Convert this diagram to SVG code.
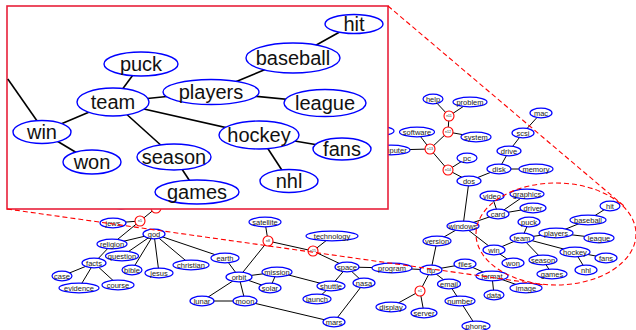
<svg xmlns="http://www.w3.org/2000/svg" width="636" height="330" viewBox="0 0 636 330">
<style>
.e line{stroke:#000;stroke-width:1}
.n ellipse{fill:#fff;stroke:#0000ff;stroke-width:1.2}
.n text{font-family:"Liberation Sans",Arial,sans-serif;font-size:7.5px;fill:#222;text-anchor:middle}
.r circle{fill:#fff;stroke:#ff0000;stroke-width:1.1}
.r text{font-family:"Liberation Sans",Arial,sans-serif;font-size:3.6px;fill:#333;text-anchor:middle}
.ie line{stroke:#000;stroke-width:1.6}
.in ellipse{fill:#fff;stroke:#0000ff;stroke-width:1.4}
.in text{font-family:"Liberation Sans",Arial,sans-serif;font-size:20px;fill:#111;text-anchor:middle}
.d{fill:none;stroke:#ff0000;stroke-width:1.1;stroke-dasharray:5 3}
</style>
<g id="connectors" class="e">
<line x1="433" y1="99" x2="449" y2="116"/><line x1="470" y1="102" x2="449" y2="116"/>
<line x1="449" y1="116" x2="448" y2="132"/><line x1="448" y1="132" x2="476" y2="137"/>
<line x1="448" y1="132" x2="430" y2="149"/><line x1="430" y1="149" x2="417" y2="132"/>
<line x1="430" y1="149" x2="391" y2="150"/><line x1="430" y1="149" x2="448" y2="170"/>
<line x1="448" y1="170" x2="467" y2="158"/><line x1="448" y1="170" x2="469" y2="181"/>
<line x1="469" y1="181" x2="499" y2="169"/><line x1="499" y1="169" x2="536" y2="169"/>
<line x1="499" y1="169" x2="509" y2="151"/><line x1="509" y1="151" x2="523" y2="133"/>
<line x1="523" y1="133" x2="541" y2="113"/><line x1="469" y1="181" x2="463" y2="226"/>
<line x1="463" y1="226" x2="498" y2="214"/><line x1="498" y1="214" x2="492" y2="196"/>
<line x1="498" y1="214" x2="527" y2="194"/><line x1="498" y1="214" x2="533" y2="208"/>
<line x1="463" y1="226" x2="494" y2="250"/><line x1="494" y1="250" x2="513" y2="263"/>
<line x1="494" y1="250" x2="522" y2="238"/><line x1="522" y1="238" x2="529" y2="222"/>
<line x1="522" y1="238" x2="556" y2="233"/><line x1="556" y1="233" x2="588" y2="220"/>
<line x1="588" y1="220" x2="610" y2="206"/><line x1="556" y1="233" x2="599" y2="238"/>
<line x1="522" y1="238" x2="543" y2="260"/><line x1="543" y1="260" x2="552" y2="274"/>
<line x1="522" y1="238" x2="575" y2="252"/><line x1="575" y1="252" x2="606" y2="258"/>
<line x1="575" y1="252" x2="586" y2="270"/><line x1="463" y1="226" x2="437" y2="241"/>
<line x1="437" y1="241" x2="431" y2="270"/><line x1="431" y1="270" x2="392" y2="268"/>
<line x1="431" y1="270" x2="465" y2="264"/><line x1="465" y1="264" x2="492" y2="276"/>
<line x1="492" y1="276" x2="494" y2="295"/><line x1="492" y1="276" x2="526" y2="288"/>
<line x1="431" y1="270" x2="449" y2="284"/><line x1="449" y1="284" x2="460" y2="301"/>
<line x1="460" y1="301" x2="476" y2="326"/><line x1="431" y1="270" x2="420" y2="291"/>
<line x1="420" y1="291" x2="391" y2="307"/><line x1="420" y1="291" x2="424" y2="313"/>
<line x1="392" y1="268" x2="347" y2="267"/><line x1="347" y1="267" x2="331" y2="286"/>
<line x1="347" y1="267" x2="364" y2="283"/><line x1="331" y1="286" x2="317" y2="299"/>
<line x1="364" y1="283" x2="334" y2="322"/><line x1="277" y1="272" x2="331" y2="286"/>
<line x1="347" y1="267" x2="313" y2="251"/><line x1="313" y1="251" x2="332" y2="236"/>
<line x1="313" y1="251" x2="268" y2="241"/><line x1="268" y1="241" x2="265" y2="222"/>
<line x1="268" y1="241" x2="239" y2="277"/><line x1="239" y1="277" x2="277" y2="272"/>
<line x1="239" y1="277" x2="270" y2="288"/><line x1="277" y1="272" x2="270" y2="288"/>
<line x1="239" y1="277" x2="245" y2="301"/><line x1="239" y1="277" x2="202" y2="301"/>
<line x1="202" y1="301" x2="245" y2="301"/><line x1="245" y1="301" x2="334" y2="322"/>
<line x1="239" y1="277" x2="225" y2="258"/><line x1="225" y1="258" x2="154" y2="234"/>
<line x1="154" y1="234" x2="191" y2="265"/><line x1="154" y1="234" x2="159" y2="273"/>
<line x1="154" y1="234" x2="132" y2="270"/><line x1="154" y1="234" x2="122" y2="256"/>
<line x1="154" y1="234" x2="112" y2="244"/><line x1="112" y1="244" x2="140" y2="221"/>
<line x1="140" y1="221" x2="113" y2="223"/><line x1="140" y1="221" x2="156" y2="208"/>
<line x1="112" y1="244" x2="94" y2="263"/><line x1="94" y1="263" x2="62" y2="276"/>
<line x1="94" y1="263" x2="79" y2="288"/><line x1="94" y1="263" x2="118" y2="285"/>
</g>
<g id="n-hidden1" class="n"><ellipse cx="377" cy="131" rx="17" ry="4.8"/></g>
<g id="n-hidden2" class="n"><ellipse cx="121" cy="204" rx="12" ry="4.8"/></g>
<g id="n-help" class="n"><ellipse cx="433" cy="99" rx="10" ry="4.8"/><text x="433" y="101.6">help</text></g>
<g id="n-problem" class="n"><ellipse cx="470" cy="102" rx="17" ry="4.8"/><text x="470" y="104.6">problem</text></g>
<g id="n-system" class="n"><ellipse cx="476" cy="137" rx="15" ry="4.8"/><text x="476" y="139.6">system</text></g>
<g id="n-software" class="n"><ellipse cx="417" cy="132" rx="17.5" ry="4.8"/><text x="417" y="134.6">software</text></g>
<g id="n-computer" class="n"><ellipse cx="391" cy="150" rx="19" ry="4.8"/><text x="391" y="152.6">computer</text></g>
<g id="n-pc" class="n"><ellipse cx="467" cy="158" rx="10" ry="4.8"/><text x="467" y="160.6">pc</text></g>
<g id="n-dos" class="n"><ellipse cx="469" cy="181" rx="12" ry="4.8"/><text x="469" y="183.6">dos</text></g>
<g id="n-disk" class="n"><ellipse cx="499" cy="169" rx="12" ry="4.8"/><text x="499" y="171.6">disk</text></g>
<g id="n-memory" class="n"><ellipse cx="536" cy="169" rx="17" ry="4.8"/><text x="536" y="171.6">memory</text></g>
<g id="n-drive" class="n"><ellipse cx="509" cy="151" rx="12" ry="4.8"/><text x="509" y="153.6">drive</text></g>
<g id="n-scsi" class="n"><ellipse cx="523" cy="133" rx="11" ry="4.8"/><text x="523" y="135.6">scsi</text></g>
<g id="n-mac" class="n"><ellipse cx="541" cy="113" rx="11" ry="4.8"/><text x="541" y="115.6">mac</text></g>
<g id="n-video" class="n"><ellipse cx="492" cy="196" rx="12" ry="4.8"/><text x="492" y="198.6">video</text></g>
<g id="n-graphics" class="n"><ellipse cx="527" cy="194" rx="17" ry="4.8"/><text x="527" y="196.6">graphics</text></g>
<g id="n-card" class="n"><ellipse cx="498" cy="214" rx="11" ry="4.8"/><text x="498" y="216.6">card</text></g>
<g id="n-driver" class="n"><ellipse cx="533" cy="208" rx="13" ry="4.8"/><text x="533" y="210.6">driver</text></g>
<g id="n-windows" class="n"><ellipse cx="463" cy="226" rx="16" ry="4.8"/><text x="463" y="228.6">windows</text></g>
<g id="n-puck" class="n"><ellipse cx="529" cy="222" rx="11" ry="4.8"/><text x="529" y="224.6">puck</text></g>
<g id="n-baseball" class="n"><ellipse cx="588" cy="220" rx="18" ry="4.8"/><text x="588" y="222.6">baseball</text></g>
<g id="n-hit" class="n"><ellipse cx="610" cy="206" rx="10" ry="4.8"/><text x="610" y="208.6">hit</text></g>
<g id="n-team" class="n"><ellipse cx="522" cy="238" rx="12" ry="4.8"/><text x="522" y="240.6">team</text></g>
<g id="n-players" class="n"><ellipse cx="556" cy="233" rx="17" ry="4.8"/><text x="556" y="235.6">players</text></g>
<g id="n-league" class="n"><ellipse cx="599" cy="238" rx="15" ry="4.8"/><text x="599" y="240.6">league</text></g>
<g id="n-win" class="n"><ellipse cx="494" cy="250" rx="11" ry="4.8"/><text x="494" y="252.6">win</text></g>
<g id="n-hockey" class="n"><ellipse cx="575" cy="252" rx="15" ry="4.8"/><text x="575" y="254.6">hockey</text></g>
<g id="n-fans" class="n"><ellipse cx="606" cy="258" rx="11" ry="4.8"/><text x="606" y="260.6">fans</text></g>
<g id="n-won" class="n"><ellipse cx="513" cy="263" rx="11" ry="4.8"/><text x="513" y="265.6">won</text></g>
<g id="n-season" class="n"><ellipse cx="543" cy="260" rx="14" ry="4.8"/><text x="543" y="262.6">season</text></g>
<g id="n-nhl" class="n"><ellipse cx="586" cy="270" rx="11" ry="4.8"/><text x="586" y="272.6">nhl</text></g>
<g id="n-games" class="n"><ellipse cx="552" cy="274" rx="15" ry="4.8"/><text x="552" y="276.6">games</text></g>
<g id="n-format" class="n"><ellipse cx="492" cy="276" rx="16" ry="4.8"/><text x="492" y="278.6">format</text></g>
<g id="n-image" class="n"><ellipse cx="526" cy="288" rx="16" ry="4.8"/><text x="526" y="290.6">image</text></g>
<g id="n-version" class="n"><ellipse cx="437" cy="241" rx="14" ry="4.8"/><text x="437" y="243.6">version</text></g>
<g id="n-ftp" class="n"><ellipse cx="431" cy="270" rx="11" ry="4.8"/><text x="431" y="272.6">ftp</text></g>
<g id="n-files" class="n"><ellipse cx="465" cy="264" rx="11" ry="4.8"/><text x="465" y="266.6">files</text></g>
<g id="n-email" class="n"><ellipse cx="449" cy="284" rx="11.5" ry="4.8"/><text x="449" y="286.6">email</text></g>
<g id="n-data" class="n"><ellipse cx="494" cy="295" rx="10" ry="4.8"/><text x="494" y="297.6">data</text></g>
<g id="n-number" class="n"><ellipse cx="460" cy="301" rx="15" ry="4.8"/><text x="460" y="303.6">number</text></g>
<g id="n-display" class="n"><ellipse cx="391" cy="307" rx="15" ry="4.8"/><text x="391" y="309.6">display</text></g>
<g id="n-server" class="n"><ellipse cx="424" cy="313" rx="13" ry="4.8"/><text x="424" y="315.6">server</text></g>
<g id="n-phone" class="n"><ellipse cx="476" cy="326" rx="14" ry="4.8"/><text x="476" y="328.6">phone</text></g>
<g id="n-program" class="n"><ellipse cx="392" cy="268" rx="20" ry="4.8"/><text x="392" y="270.6">program</text></g>
<g id="n-space" class="n"><ellipse cx="347" cy="267" rx="12" ry="4.8"/><text x="347" y="269.6">space</text></g>
<g id="n-shuttle" class="n"><ellipse cx="331" cy="286" rx="14" ry="4.8"/><text x="331" y="288.6">shuttle</text></g>
<g id="n-nasa" class="n"><ellipse cx="364" cy="283" rx="11" ry="4.8"/><text x="364" y="285.6">nasa</text></g>
<g id="n-launch" class="n"><ellipse cx="317" cy="299" rx="14" ry="4.8"/><text x="317" y="301.6">launch</text></g>
<g id="n-mars" class="n"><ellipse cx="334" cy="322" rx="11" ry="4.8"/><text x="334" y="324.6">mars</text></g>
<g id="n-technology" class="n"><ellipse cx="332" cy="236" rx="26" ry="4.8"/><text x="332" y="238.6">technology</text></g>
<g id="n-satellite" class="n"><ellipse cx="265" cy="222" rx="16" ry="4.8"/><text x="265" y="224.6">satellite</text></g>
<g id="n-orbit" class="n"><ellipse cx="239" cy="277" rx="13" ry="4.8"/><text x="239" y="279.6">orbit</text></g>
<g id="n-mission" class="n"><ellipse cx="277" cy="272" rx="15" ry="4.8"/><text x="277" y="274.6">mission</text></g>
<g id="n-solar" class="n"><ellipse cx="270" cy="288" rx="11" ry="4.8"/><text x="270" y="290.6">solar</text></g>
<g id="n-moon" class="n"><ellipse cx="245" cy="301" rx="12" ry="4.8"/><text x="245" y="303.6">moon</text></g>
<g id="n-lunar" class="n"><ellipse cx="202" cy="301" rx="12" ry="4.8"/><text x="202" y="303.6">lunar</text></g>
<g id="n-earth" class="n"><ellipse cx="225" cy="258" rx="14" ry="4.8"/><text x="225" y="260.6">earth</text></g>
<g id="n-god" class="n"><ellipse cx="154" cy="234" rx="11" ry="4.8"/><text x="154" y="236.6">god</text></g>
<g id="n-jews" class="n"><ellipse cx="113" cy="223" rx="13" ry="4.8"/><text x="113" y="225.6">jews</text></g>
<g id="n-religion" class="n"><ellipse cx="112" cy="244" rx="15" ry="4.8"/><text x="112" y="246.6">religion</text></g>
<g id="n-question" class="n"><ellipse cx="122" cy="256" rx="16.5" ry="4.8"/><text x="122" y="258.6">question</text></g>
<g id="n-bible" class="n"><ellipse cx="132" cy="270" rx="10" ry="4.8"/><text x="132" y="272.6">bible</text></g>
<g id="n-jesus" class="n"><ellipse cx="159" cy="273" rx="14" ry="4.8"/><text x="159" y="275.6">jesus</text></g>
<g id="n-christian" class="n"><ellipse cx="191" cy="265" rx="18" ry="4.8"/><text x="191" y="267.6">christian</text></g>
<g id="n-facts" class="n"><ellipse cx="94" cy="263" rx="12" ry="4.8"/><text x="94" y="265.6">facts</text></g>
<g id="n-case" class="n"><ellipse cx="62" cy="276" rx="10" ry="4.8"/><text x="62" y="278.6">case</text></g>
<g id="n-evidence" class="n"><ellipse cx="79" cy="288" rx="20" ry="4.8"/><text x="79" y="290.6">evidence</text></g>
<g id="n-course" class="n"><ellipse cx="118" cy="285" rx="16" ry="4.8"/><text x="118" y="287.6">course</text></g>
<g id="n-n11" class="r"><circle cx="449" cy="116" r="5"/><text x="449" y="117.3">n11</text></g>
<g id="n-n12" class="r"><circle cx="448" cy="132" r="5"/><text x="448" y="133.3">n12</text></g>
<g id="n-n13" class="r"><circle cx="430" cy="149" r="5"/><text x="430" y="150.3">n13</text></g>
<g id="n-n14" class="r"><circle cx="448" cy="170" r="5"/><text x="448" y="171.3">n14</text></g>
<g id="n-n1" class="r"><circle cx="420" cy="291" r="5"/><text x="420" y="292.3">n1</text></g>
<g id="n-n15" class="r"><circle cx="313" cy="251" r="5"/><text x="313" y="252.3">n15</text></g>
<g id="n-n8" class="r"><circle cx="268" cy="241" r="5"/><text x="268" y="242.3">n8</text></g>
<g id="n-n5" class="r"><circle cx="140" cy="221" r="5"/><text x="140" y="222.3">n5</text></g>
<g id="n-n6" class="r"><circle cx="156" cy="208" r="5"/><text x="156" y="209.3">n6</text></g>
<ellipse class="d" cx="556" cy="234" rx="80" ry="51" stroke-dasharray="4 3"/>
<g id="inset">
<rect x="7" y="6" width="381" height="203" fill="#fff" stroke="#e8203a" stroke-width="1.6"/>
<g id="inset-connectors" class="ie">
<line x1="7.8" y1="79" x2="42" y2="128"/>
<line x1="354" y1="24" x2="293" y2="58"/><line x1="293" y1="58" x2="211" y2="92"/>
<line x1="211" y1="92" x2="325" y2="103"/><line x1="113" y1="102" x2="211" y2="92"/>
<line x1="113" y1="102" x2="141" y2="64"/><line x1="113" y1="102" x2="42" y2="132"/>
<line x1="113" y1="102" x2="174" y2="157"/><line x1="113" y1="102" x2="259" y2="135"/>
<line x1="259" y1="135" x2="342" y2="149"/><line x1="259" y1="135" x2="289" y2="181"/>
<line x1="174" y1="157" x2="197" y2="192"/><line x1="42" y1="132" x2="92" y2="162"/>
</g>
<g id="i-hit" class="in"><ellipse cx="354" cy="24" rx="29" ry="9.5"/><text x="354" y="31">hit</text></g>
<g id="i-baseball" class="in"><ellipse cx="293" cy="58" rx="47" ry="15"/><text x="293" y="65">baseball</text></g>
<g id="i-puck" class="in"><ellipse cx="141" cy="64" rx="37" ry="12"/><text x="141" y="71">puck</text></g>
<g id="i-players" class="in"><ellipse cx="211" cy="92" rx="48" ry="12.5"/><text x="211" y="99">players</text></g>
<g id="i-league" class="in"><ellipse cx="325" cy="103" rx="41" ry="13.5"/><text x="325" y="110">league</text></g>
<g id="i-team" class="in"><ellipse cx="113" cy="102" rx="36" ry="14"/><text x="113" y="109">team</text></g>
<g id="i-win" class="in"><ellipse cx="42" cy="132" rx="29" ry="11.5"/><text x="42" y="139">win</text></g>
<g id="i-won" class="in"><ellipse cx="92" cy="162" rx="29" ry="12"/><text x="92" y="169">won</text></g>
<g id="i-season" class="in"><ellipse cx="174" cy="157" rx="37" ry="13"/><text x="174" y="164">season</text></g>
<g id="i-hockey" class="in"><ellipse cx="259" cy="135" rx="40" ry="14"/><text x="259" y="142">hockey</text></g>
<g id="i-fans" class="in"><ellipse cx="342" cy="149" rx="29" ry="11"/><text x="342" y="156">fans</text></g>
<g id="i-nhl" class="in"><ellipse cx="289" cy="181" rx="29" ry="11.5"/><text x="289" y="188">nhl</text></g>
<g id="i-games" class="in"><ellipse cx="197" cy="192" rx="42" ry="12"/><text x="197" y="199">games</text></g>
</g>
<line class="d" x1="388" y1="6" x2="624" y2="206"/>
<line class="d" x1="7" y1="209" x2="545" y2="285"/>
</svg>
